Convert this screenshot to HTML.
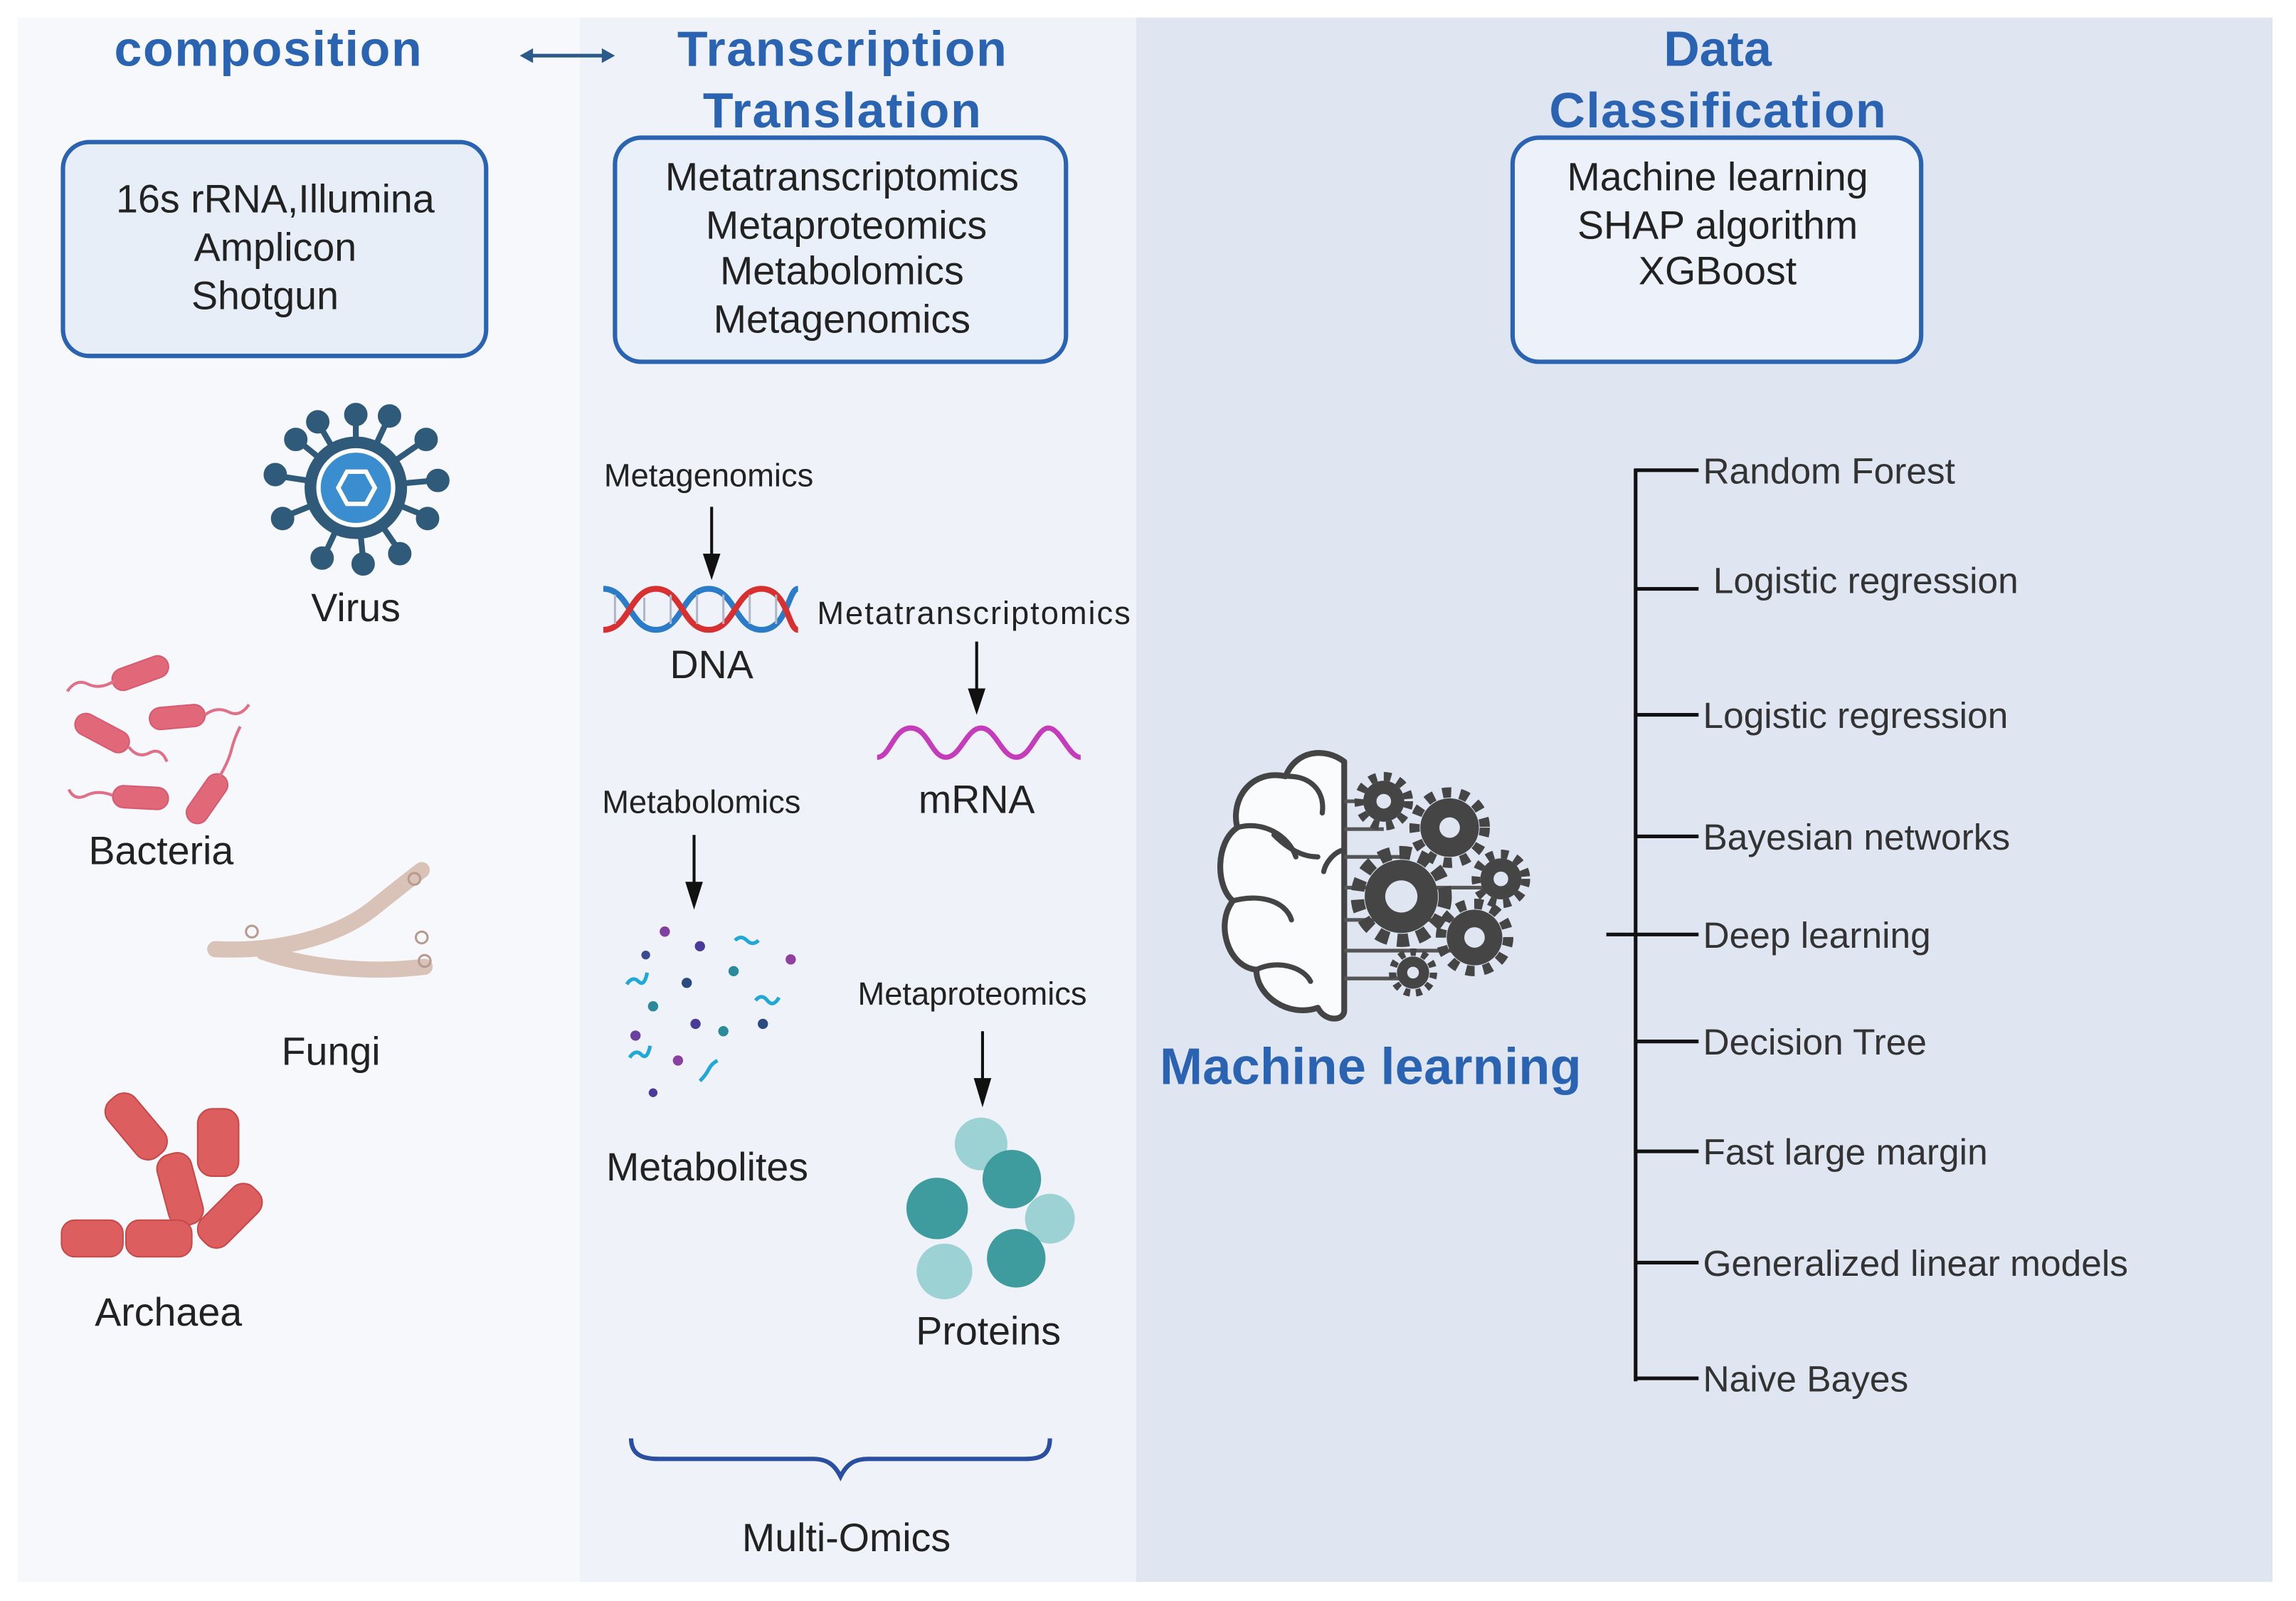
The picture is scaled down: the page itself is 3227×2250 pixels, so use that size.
<!DOCTYPE html>
<html><head><meta charset="utf-8"><style>
html,body{margin:0;padding:0;background:#fff;}
svg{display:block;}
text{font-family:"Liberation Sans",sans-serif;}
.t{font-weight:bold;fill:#2b63b3;font-size:34px;text-anchor:middle;}
.b{font-size:27px;fill:#222;text-anchor:middle;}
.s{font-size:22px;fill:#222;text-anchor:middle;}
.l{font-size:25px;fill:#333;}
</style></head><body>
<svg width="3227" height="2250" viewBox="0 0 1568 1093" preserveAspectRatio="none" xmlns="http://www.w3.org/2000/svg">
<rect width="1568" height="1093" fill="#fff"/>
<rect x="12" y="12" width="384" height="1068" fill="#f7f8fc"/>
<rect x="396" y="12" width="380" height="1068" fill="#eff2f8"/>
<rect x="776" y="12" width="776" height="1068" fill="#dfe5f1"/>

<!-- titles -->
<text class="t" x="183" y="45" textLength="210">composition</text>
<line x1="360" y1="38" x2="415" y2="38" stroke="#2a5a8a" stroke-width="2.5"/>
<path d="M355,38 l9,-5 v10z M420,38 l-9,-5 v10z" fill="#2a5a8a"/>
<text class="t" x="575" y="45" textLength="225">Transcription</text>
<text class="t" x="575" y="87" textLength="190">Translation</text>
<text class="t" x="1173" y="45">Data</text>
<text class="t" x="1173" y="87" textLength="230">Classification</text>

<!-- boxes -->
<rect x="43" y="97" width="289" height="146" rx="18" fill="#e8eef8" stroke="#2b63b3" stroke-width="3"/>
<text class="b" x="188" y="145">16s rRNA,Illumina</text>
<text class="b" x="188" y="178">Amplicon</text>
<text class="b" x="181" y="211">Shotgun</text>
<rect x="420" y="94" width="308" height="153" rx="18" fill="#eaf0f9" stroke="#2b63b3" stroke-width="3"/>
<text class="b" x="575" y="130">Metatranscriptomics</text>
<text class="b" x="578" y="163">Metaproteomics</text>
<text class="b" x="575" y="194">Metabolomics</text>
<text class="b" x="575" y="227">Metagenomics</text>
<rect x="1033" y="94" width="279" height="153" rx="18" fill="#edf2fa" stroke="#2b63b3" stroke-width="3"/>
<text class="b" x="1173" y="130">Machine learning</text>
<text class="b" x="1173" y="163">SHAP algorithm</text>
<text class="b" x="1173" y="194">XGBoost</text>

<!-- virus -->
<g stroke="#2f5a7a" stroke-width="4" fill="#2f5a7a">
<line x1="243" y1="333" x2="243" y2="285"/><line x1="243" y1="333" x2="265" y2="286"/><line x1="243" y1="333" x2="288" y2="302"/>
<line x1="243" y1="333" x2="297" y2="328"/><line x1="243" y1="333" x2="290" y2="352"/><line x1="243" y1="333" x2="272" y2="375"/>
<line x1="243" y1="333" x2="248" y2="382"/><line x1="243" y1="333" x2="222" y2="378"/><line x1="243" y1="333" x2="196" y2="352"/>
<line x1="243" y1="333" x2="190" y2="325"/><line x1="243" y1="333" x2="205" y2="302"/><line x1="243" y1="333" x2="218" y2="290"/>
<circle cx="243" cy="283" r="6"/><circle cx="266" cy="284" r="6"/><circle cx="291" cy="300" r="6"/><circle cx="299" cy="328" r="6"/>
<circle cx="292" cy="354" r="6"/><circle cx="273" cy="378" r="6"/><circle cx="248" cy="385" r="6"/><circle cx="220" cy="381" r="6"/>
<circle cx="193" cy="354" r="6"/><circle cx="188" cy="324" r="6"/><circle cx="202" cy="300" r="6"/><circle cx="217" cy="288" r="6"/>
</g>
<circle cx="243" cy="333" r="35" fill="#2f5a7a"/>
<circle cx="243" cy="333" r="27" fill="#fff"/>
<circle cx="243" cy="333" r="24" fill="#3a8ed0"/>
<path d="M231,333 l6,-11 h13 l6,11 l-6,11 h-13z" fill="none" stroke="#fff" stroke-width="3"/>
<text class="b" x="243" y="424">Virus</text>

<!-- bacteria -->
<g fill="#e06878" stroke="#d85a70" stroke-width="1">
<rect x="76" y="452" width="40" height="15" rx="7.5" transform="rotate(-20 96 460)"/>
<rect x="50" y="493" width="40" height="15" rx="7.5" transform="rotate(28 70 500)"/>
<rect x="102" y="482" width="38" height="15" rx="7.5" transform="rotate(-5 121 489)"/>
<rect x="77" y="537" width="38" height="15" rx="7.5" transform="rotate(3 96 544)"/>
<rect x="122" y="538" width="38" height="15" rx="7.5" transform="rotate(-55 141 545)"/>
</g>
<g fill="none" stroke="#e07088" stroke-width="2">
<path d="M78,465 q-10,6 -18,2 t-14,5"/><path d="M88,510 q6,8 14,4 t12,6"/><path d="M140,488 q8,-6 16,-2 t14,-5"/>
<path d="M77,543 q-10,-4 -18,0 t-12,-4"/><path d="M150,530 q6,-10 8,-18 t6,-16"/>
</g>
<text class="b" x="110" y="590">Bacteria</text>

<!-- fungi -->
<g fill="none" stroke="#d9c3b8" stroke-linecap="round">
<path d="M147,648 C190,650 230,640 255,620 C270,608 280,600 288,594" stroke-width="11"/>
<path d="M180,650 C210,660 250,665 290,660" stroke-width="11"/>
</g>
<g fill="none" stroke="#b89a8e" stroke-width="1.5"><circle cx="172" cy="636" r="4"/><circle cx="288" cy="640" r="4"/><circle cx="290" cy="656" r="4"/><circle cx="283" cy="600" r="4"/></g>
<text class="b" x="226" y="727">Fungi</text>

<!-- archaea -->
<g fill="#dd5e5e" stroke="#c84848" stroke-width="1">
<rect x="68" y="757" width="50" height="24" rx="10" transform="rotate(50 93 769)"/>
<rect x="135" y="757" width="28" height="46" rx="10"/>
<rect x="98" y="800" width="50" height="24" rx="10" transform="rotate(75 123 812)"/>
<rect x="132" y="818" width="50" height="24" rx="10" transform="rotate(-45 157 830)"/>
<rect x="42" y="833" width="42" height="25" rx="9"/>
<rect x="86" y="833" width="45" height="25" rx="9"/>
</g>
<text class="b" x="115" y="905">Archaea</text>

<!-- middle column -->
<text class="s" x="484" y="332">Metagenomics</text>
<line x1="486" y1="346" x2="486" y2="380" stroke="#111" stroke-width="2"/>
<path d="M480,378 L492,378 L486,396 Z" fill="#111"/>
<g fill="none" stroke-width="4">
<path d="M412,402 C430,402 430,430 448,430 S466,402 484,402 S502,430 520,430 S538,402 545,402" stroke="#2a7cc8"/>
<path d="M412,430 C430,430 430,402 448,402 S466,430 484,430 S502,402 520,402 S538,430 545,430" stroke="#d83030"/>
</g>
<g stroke="#b0b8c8" stroke-width="1.5"><line x1="420" y1="406" x2="420" y2="426"/><line x1="440" y1="408" x2="440" y2="424"/><line x1="458" y1="406" x2="458" y2="426"/><line x1="476" y1="406" x2="476" y2="426"/><line x1="494" y1="406" x2="494" y2="426"/><line x1="512" y1="406" x2="512" y2="426"/><line x1="530" y1="406" x2="530" y2="426"/></g>
<text class="b" x="486" y="463">DNA</text>
<text class="s" x="665" y="426" textLength="214">Metatranscriptomics</text>
<line x1="667" y1="438" x2="667" y2="472" stroke="#111" stroke-width="2"/>
<path d="M661,470 L673,470 L667,488 Z" fill="#111"/>
<path d="M599,517 C608,517 610,497 622,497 S636,517 646,517 S660,497 670,497 S684,517 694,517 S708,497 716,497 S730,517 738,517" fill="none" stroke="#c43cbc" stroke-width="3.5"/>
<text class="b" x="667" y="555">mRNA</text>

<text class="s" x="479" y="555">Metabolomics</text>
<line x1="474" y1="570" x2="474" y2="604" stroke="#111" stroke-width="2"/>
<path d="M468,602 L480,602 L474,621 Z" fill="#111"/>
<g>
<circle cx="454" cy="636" r="3.5" fill="#8040a0"/><circle cx="441" cy="652" r="3" fill="#3a4a90"/><circle cx="478" cy="646" r="3.5" fill="#4a3a9a"/>
<circle cx="540" cy="655" r="3.5" fill="#9040a0"/><circle cx="501" cy="663" r="3.5" fill="#2a8a9a"/><circle cx="469" cy="671" r="3.5" fill="#2a4a80"/>
<circle cx="446" cy="687" r="3.5" fill="#2a8a9a"/><circle cx="475" cy="699" r="3.5" fill="#4a3a9a"/><circle cx="494" cy="704" r="3.5" fill="#2a8a9a"/>
<circle cx="521" cy="699" r="3.5" fill="#2a4a80"/><circle cx="434" cy="707" r="3.5" fill="#6a40a0"/><circle cx="463" cy="724" r="3.5" fill="#8a40a0"/>
<circle cx="446" cy="746" r="3" fill="#4a3a9a"/>
</g>
<g fill="none" stroke="#20a8d8" stroke-width="2.5"><path d="M502,642 q4,-4 8,0 t8,0"/><path d="M428,672 q4,-6 8,-2 t6,-6"/><path d="M516,683 q4,-5 8,0 t8,-2"/><path d="M430,722 q4,-6 8,-2 t6,-6"/><path d="M478,738 q4,-4 6,-8 t6,-6"/></g>
<text class="b" x="483" y="806">Metabolites</text>

<text class="s" x="664" y="686">Metaproteomics</text>
<line x1="671" y1="704" x2="671" y2="738" stroke="#111" stroke-width="2"/>
<path d="M665,736 L677,736 L671,756 Z" fill="#111"/>
<g>
<circle cx="670" cy="781" r="18" fill="#9cd2d4"/>
<circle cx="691" cy="805" r="20" fill="#3e9c9e"/>
<circle cx="640" cy="825" r="21" fill="#3e9c9e"/>
<circle cx="717" cy="832" r="17" fill="#9cd2d4"/>
<circle cx="694" cy="859" r="20" fill="#3e9c9e"/>
<circle cx="645" cy="868" r="19" fill="#9cd2d4"/>
</g>
<text class="b" x="675" y="918">Proteins</text>

<path d="M431,982 C431,994 440,996 450,996 L555,996 C565,996 570,1000 574,1008 C578,1000 583,996 593,996 L700,996 C710,996 717,994 717,982" fill="none" stroke="#2a4fa0" stroke-width="3"/>
<text class="b" x="578" y="1059">Multi-Omics</text>

<!-- brain -->
<g fill="#fafbfd" stroke="#444" stroke-width="4" stroke-linejoin="round">
<path d="M918,520 C905,510 885,512 878,530 C855,525 840,545 845,565 C830,575 830,605 842,615 C830,630 838,660 858,662 C858,680 880,695 900,688 C905,698 918,697 918,690 Z"/>
</g>
<g fill="none" stroke="#444" stroke-width="3.5" stroke-linecap="round">
<path d="M880,530 C895,530 905,540 903,555"/><path d="M845,565 C862,560 880,570 885,585"/><path d="M842,615 C860,610 878,615 882,628"/><path d="M858,662 C872,655 890,660 895,670"/><path d="M918,580 C910,582 905,590 904,595"/><path d="M870,570 C880,580 890,585 900,585"/>
</g>
<g stroke="#555" stroke-width="2.5" fill="none">
<line x1="918" y1="547" x2="945" y2="547"/><line x1="918" y1="566" x2="945" y2="566"/><line x1="918" y1="585" x2="960" y2="585"/><line x1="918" y1="606" x2="1020" y2="606"/><line x1="918" y1="628" x2="1005" y2="628"/><line x1="918" y1="649" x2="1000" y2="649"/><line x1="918" y1="668" x2="960" y2="668"/>
</g>
<g fill="#454545">
<circle cx="945" cy="547" r="14"/><circle cx="945" cy="547" r="17" fill="none" stroke="#454545" stroke-width="6" stroke-dasharray="5 5"/>
<circle cx="990" cy="565" r="20"/><circle cx="990" cy="565" r="24" fill="none" stroke="#454545" stroke-width="7" stroke-dasharray="6 6"/>
<circle cx="957" cy="612" r="25"/><circle cx="957" cy="612" r="30" fill="none" stroke="#454545" stroke-width="9" stroke-dasharray="8 6"/>
<circle cx="1025" cy="600" r="14"/><circle cx="1025" cy="600" r="17" fill="none" stroke="#454545" stroke-width="6" stroke-dasharray="5 5"/>
<circle cx="1007" cy="640" r="19"/><circle cx="1007" cy="640" r="23" fill="none" stroke="#454545" stroke-width="7" stroke-dasharray="6 6"/>
<circle cx="965" cy="664" r="11"/><circle cx="965" cy="664" r="14" fill="none" stroke="#454545" stroke-width="5" stroke-dasharray="4 4"/>
</g>
<g fill="#dfe5f1"><circle cx="945" cy="547" r="5"/><circle cx="990" cy="565" r="7"/><circle cx="957" cy="612" r="11"/><circle cx="1025" cy="600" r="5"/><circle cx="1007" cy="640" r="7"/><circle cx="965" cy="664" r="4"/></g>
<text x="936" y="740" style="font-weight:bold;fill:#2b63b3;font-size:35px;text-anchor:middle" textLength="288">Machine learning</text>

<!-- tree -->
<g stroke="#111" stroke-width="2.5">
<line x1="1117" y1="320" x2="1117" y2="943"/>
<line x1="1116" y1="321" x2="1160" y2="321"/><line x1="1117" y1="402" x2="1160" y2="402"/><line x1="1117" y1="488" x2="1160" y2="488"/>
<line x1="1117" y1="571" x2="1160" y2="571"/><line x1="1097" y1="638" x2="1160" y2="638"/><line x1="1117" y1="711" x2="1160" y2="711"/>
<line x1="1117" y1="786" x2="1160" y2="786"/><line x1="1117" y1="862" x2="1160" y2="862"/><line x1="1116" y1="941" x2="1160" y2="941"/>
</g>
<text class="l" x="1163" y="330">Random Forest</text>
<text class="l" x="1170" y="405">Logistic regression</text>
<text class="l" x="1163" y="497">Logistic regression</text>
<text class="l" x="1163" y="580">Bayesian networks</text>
<text class="l" x="1163" y="647">Deep learning</text>
<text class="l" x="1163" y="720">Decision Tree</text>
<text class="l" x="1163" y="795">Fast large margin</text>
<text class="l" x="1163" y="871">Generalized linear models</text>
<text class="l" x="1163" y="950">Naive Bayes</text>
</svg>
</body></html>
